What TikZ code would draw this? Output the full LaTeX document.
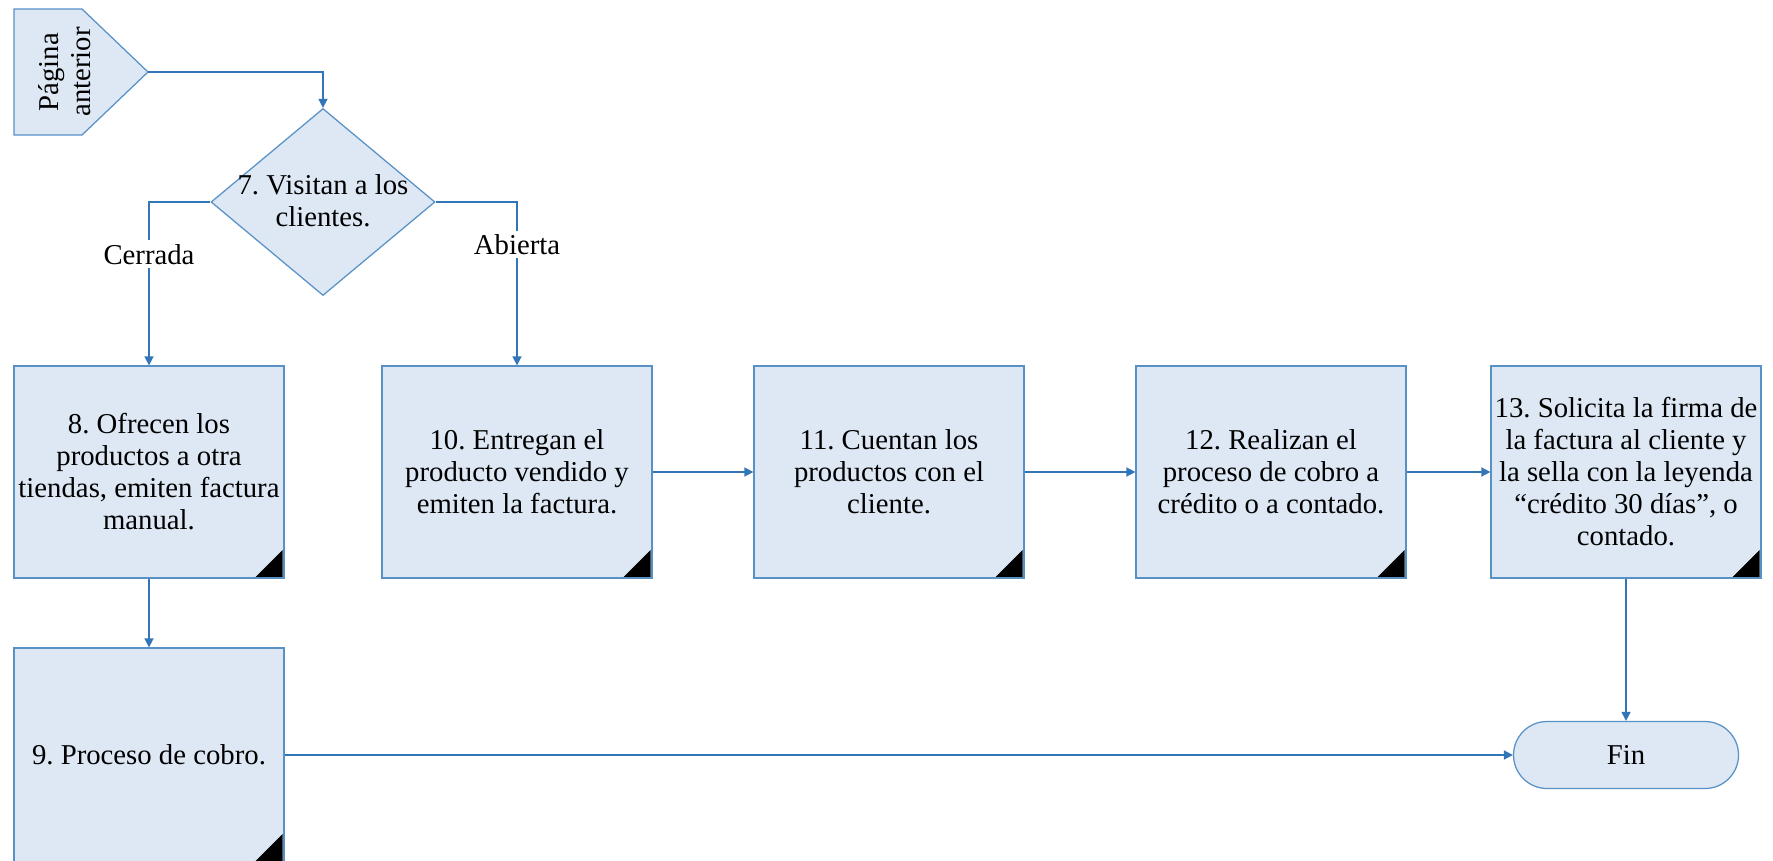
\documentclass[tikz,border=0pt]{standalone}
\usepackage{fontspec}
\setmainfont{Liberation Serif}
\usetikzlibrary{positioning,shapes.geometric,arrows.meta}
\usepackage{xcolor}
\frenchspacing

\definecolor{cajafondo}{RGB}{221,232,244}
\definecolor{cajaborde}{RGB}{88,145,198}
\definecolor{flecha}{RGB}{50,118,184}

\begin{document}
\begin{tikzpicture}[x=0.4pt, y=-0.4pt, >={Triangle[length=3.6pt,width=3.6pt]},
    font=\fontsize{11.5}{12.8}\selectfont,
    forma/.style={draw=cajaborde, fill=cajafondo, line width=0.5pt},
    proceso/.style={forma, rectangle, minimum width=108pt, minimum height=84.8pt, align=center, inner sep=0pt,
        path picture={\fill[black] ([xshift=-0.6pt,yshift=0.4pt]path picture bounding box.south east)
            -- ++(-10.8pt,0pt) -- ++(10.8pt,10.8pt) -- cycle;}},
    decision/.style={forma, diamond, minimum width=89.6pt, minimum height=74.8pt, inner sep=0pt},
    fin/.style={forma, rectangle, rounded corners=13.4pt, minimum width=90pt, minimum height=26.8pt},
    linea/.style={draw=flecha, line width=0.6pt},
    etiqueta/.style={fill=white, inner sep=1.5pt}]
    \useasboundingbox (0,0) rectangle (1773,860);

    % Conector de pagina anterior
    \draw[forma] (14,9) -- (82,9) -- (148,72) -- (82,135) -- (14,135) -- cycle;
    \node[rotate=90, align=center] (prev) at (65,72) {Página\\anterior};
    \coordinate (prevtip) at (148,72);

    % Decision
    \node[decision] (d7) at (323,202) {};
    \node[align=center] (d7txt) at (323,201) {7. Visitan a los\\clientes.};

    % Bloques de proceso
    \node[proceso] (b8) at (149,472) {8. Ofrecen los\\productos a otra\\tiendas, emiten factura\\manual.};
    \node[proceso, below of=b8, node distance=113.2pt, minimum height=85.6pt] (b9) {9. Proceso de cobro.};
    \node[proceso, right of=b8, node distance=147.2pt] (b10) {10. Entregan el\\producto vendido y\\emiten la factura.};
    \node[proceso, right of=b10, node distance=148.8pt] (b11) {11. Cuentan los\\productos con el\\cliente.};
    \node[proceso, right of=b11, node distance=152.8pt] (b12) {12. Realizan el\\proceso de cobro a\\crédito o a contado.};
    \node[proceso, right of=b12, node distance=142pt] (b13) {13. Solicita la firma de\\la factura al cliente y\\la sella con la leyenda\\“crédito 30 días”, o\\contado.};
    \node[fin, below of=b13, node distance=113.2pt] (fin) {Fin};

    % Flechas
    \draw[linea, ->] (prevtip) -| (d7.north);
    \draw[linea, ->] (d7.west) -| node[etiqueta, pos=0.66] (cerrada) {Cerrada} (b8.north);
    \draw[linea, ->] (d7.east) -| node[etiqueta, pos=0.63] (abierta) {Abierta} (b10.north);
    \draw[linea, ->] (b8) -- (b9);
    \draw[linea, ->] (b10) -- (b11);
    \draw[linea, ->] (b11) -- (b12);
    \draw[linea, ->] (b12) -- (b13);
    \draw[linea, ->] (b13) -- (fin);
    \draw[linea, ->] (b9) -- (fin);
\end{tikzpicture}
\end{document}
